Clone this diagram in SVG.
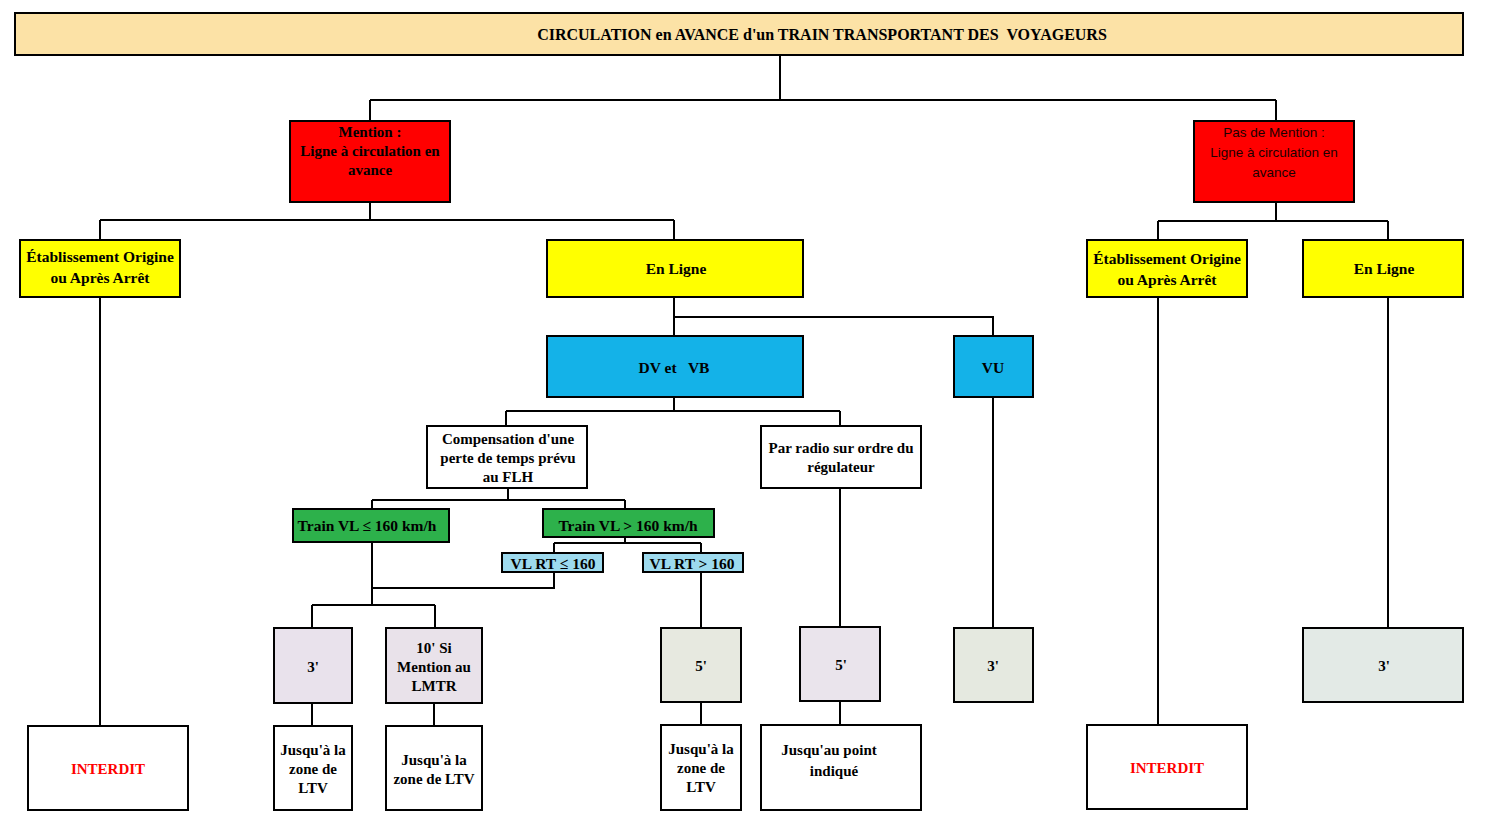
<svg xmlns="http://www.w3.org/2000/svg" width="1488" height="827" viewBox="0 0 1488 827">
<style>
rect{stroke:#000;stroke-width:2}
text{font-family:"Liberation Serif","Times New Roman",serif;font-weight:bold;font-size:15.5px;fill:#000;text-anchor:middle;dominant-baseline:central}
.m{font-size:15px}
.s{font-family:"Liberation Sans",Arial,sans-serif;font-weight:normal;font-size:13.5px;fill:#1a0000}
.r{fill:#FF0000}
#connectors path{fill:none;stroke:#000;stroke-width:2}
</style>
<rect x="0" y="0" width="1488" height="827" style="fill:#fff;stroke:none"/>
<g id="connectors">
<path d="M780 55V100M370 100H1276M370 100V121M1276 100V121"/>
<path d="M370 202V220M100 220H674M100 220V240M674 220V240"/>
<path d="M1276 202V221M1158 221H1388M1158 221V240M1388 221V240"/>
<path d="M100 297V726M1158 297V725M1388 297V628"/>
<path d="M674 297V336M674 317H993V336M993 397V628"/>
<path d="M674 397V411M506 411H840M506 411V426M840 411V426"/>
<path d="M840 488V627M840 701V725"/>
<path d="M508 488V500M372 500H625M372 500V509M625 500V509"/>
<path d="M625 537V543M554 543H701M554 543V553M701 543V553"/>
<path d="M554 572V588H372M372 542V605M312 605H435M312 605V628M435 605V628"/>
<path d="M312 703V726M434 703V726M701 572V628M701 702V725"/>
</g>
<g id="title"><rect x="15" y="13" width="1448" height="42" fill="#FCE2A6"/><text x="822" y="34" style="font-size:16px" xml:space="preserve">CIRCULATION en AVANCE d'un TRAIN TRANSPORTANT DES  VOYAGEURS</text></g>
<g id="mention"><rect x="290" y="121" width="160" height="81" fill="#FF0000"/><text class="m" x="370" y="132">Mention :</text><text class="m" x="370" y="151">Ligne à circulation en</text><text class="m" x="370" y="170">avance</text></g>
<g id="pasmention"><rect x="1194" y="121" width="160" height="81" fill="#FF0000"/><text class="s" x="1274" y="132">Pas de Mention :</text><text class="s" x="1274" y="152">Ligne à circulation en</text><text class="s" x="1274" y="172">avance</text></g>
<g id="etab1"><rect x="20" y="240" width="160" height="57" fill="#FFFF00"/><text x="100" y="256">Établissement Origine</text><text x="100" y="277">ou Après Arrêt</text></g>
<g id="enligne1"><rect x="547" y="240" width="256" height="57" fill="#FFFF00"/><text x="676" y="268">En Ligne</text></g>
<g id="etab2"><rect x="1087" y="240" width="160" height="57" fill="#FFFF00"/><text x="1167" y="258">Établissement Origine</text><text x="1167" y="279">ou Après Arrêt</text></g>
<g id="enligne2"><rect x="1303" y="240" width="160" height="57" fill="#FFFF00"/><text x="1384" y="268">En Ligne</text></g>
<g id="dvvb"><rect x="547" y="336" width="256" height="61" fill="#14B2E8"/><text x="674" y="367" xml:space="preserve">DV et   VB</text></g>
<g id="vu"><rect x="954" y="336" width="79" height="61" fill="#14B2E8"/><text x="993" y="367">VU</text></g>
<g id="comp"><rect x="427" y="426" width="160" height="62" fill="#fff"/><text class="m" x="508" y="439">Compensation d'une</text><text class="m" x="508" y="458">perte de temps prévu</text><text class="m" x="508" y="477">au FLH</text></g>
<g id="radio"><rect x="761" y="426" width="160" height="62" fill="#fff"/><text class="m" x="841" y="448">Par radio sur ordre du</text><text class="m" x="841" y="467">régulateur</text></g>
<g id="vlinf"><rect x="293" y="509" width="156" height="33" fill="#2DB14B"/><text x="367" y="525">Train VL ≤ 160 km/h</text></g>
<g id="vlsup"><rect x="543" y="509" width="171" height="28" fill="#2DB14B"/><text x="628" y="525">Train VL &gt; 160 km/h</text></g>
<g id="rtinf"><rect x="502" y="553" width="101" height="19" fill="#9DDAEE"/><text x="553" y="563">VL RT ≤ 160</text></g>
<g id="rtsup"><rect x="643" y="553" width="100" height="19" fill="#9DDAEE"/><text x="692" y="563">VL RT &gt; 160</text></g>
<g id="t3a"><rect x="274" y="628" width="78" height="75" fill="#E9E2EC"/><text class="m" x="313" y="667">3'</text></g>
<g id="t10"><rect x="386" y="628" width="96" height="75" fill="#E9E2EA"/><text class="m" x="434" y="648">10' Si</text><text class="m" x="434" y="667">Mention au</text><text class="m" x="434" y="686">LMTR</text></g>
<g id="t5a"><rect x="661" y="628" width="80" height="74" fill="#E7E9E0"/><text class="m" x="701" y="666">5'</text></g>
<g id="t5b"><rect x="800" y="627" width="80" height="74" fill="#EAE4EC"/><text class="m" x="841" y="665">5'</text></g>
<g id="t3b"><rect x="954" y="628" width="79" height="74" fill="#E5E9E0"/><text class="m" x="993" y="666">3'</text></g>
<g id="t3c"><rect x="1303" y="628" width="160" height="74" fill="#E3EAE6"/><text class="m" x="1384" y="666">3'</text></g>
<g id="interdit1"><rect x="28" y="726" width="160" height="84" fill="#fff"/><text class="m r" x="108" y="769">INTERDIT</text></g>
<g id="j1"><rect x="274" y="726" width="78" height="84" fill="#fff"/><text class="m" x="313" y="750">Jusqu'à la</text><text class="m" x="313" y="769">zone de</text><text class="m" x="313" y="788">LTV</text></g>
<g id="j2"><rect x="386" y="726" width="96" height="84" fill="#fff"/><text class="m" x="434" y="760">Jusqu'à la</text><text class="m" x="434" y="779">zone de LTV</text></g>
<g id="j3"><rect x="661" y="725" width="80" height="85" fill="#fff"/><text class="m" x="701" y="749">Jusqu'à la</text><text class="m" x="701" y="768">zone de</text><text class="m" x="701" y="787">LTV</text></g>
<g id="j4"><rect x="761" y="725" width="160" height="85" fill="#fff"/><text class="m" x="829" y="750">Jusqu'au point</text><text class="m" x="834" y="771">indiqué</text></g>
<g id="interdit2"><rect x="1087" y="725" width="160" height="84" fill="#fff"/><text class="m r" x="1167" y="768">INTERDIT</text></g>
</svg>
